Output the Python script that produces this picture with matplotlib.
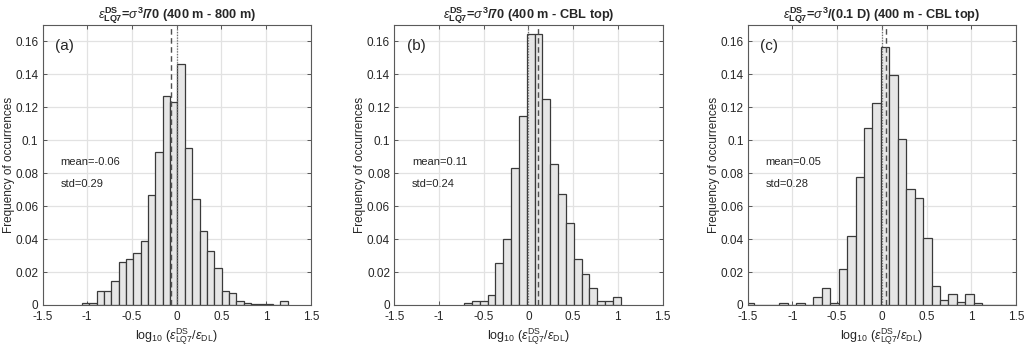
import numpy as np
import matplotlib
matplotlib.use("Agg")
import matplotlib.pyplot as plt
from matplotlib.ticker import FuncFormatter

plt.rcParams['font.family'] = ['Liberation Sans', 'DejaVu Sans']
plt.rcParams['mathtext.fontset'] = 'custom'
plt.rcParams['mathtext.rm'] = 'Liberation Sans'
plt.rcParams['mathtext.it'] = 'Liberation Sans:italic'
plt.rcParams['mathtext.bf'] = 'Liberation Sans:bold'
plt.rcParams['axes.unicode_minus'] = False

# ---------------- data ----------------
panel_labels = ['(a)', '(b)', '(c)']
titles = [
    r'$\epsilon^{\mathbf{DS}}_{\mathbf{LQ7}}$=$\sigma^{\mathbf{3}}$/70 (400 m - 800 m)',
    r'$\epsilon^{\mathbf{DS}}_{\mathbf{LQ7}}$=$\sigma^{\mathbf{3}}$/70 (400 m - CBL top)',
    r'$\epsilon^{\mathbf{DS}}_{\mathbf{LQ7}}$=$\sigma^{\mathbf{3}}$/(0.1 D) (400 m - CBL top)',
]
means = [-0.06, 0.11, 0.05]
stds = [0.29, 0.24, 0.28]

# panel (a) histogram
a_first_edge = -1.06
a_bin_width = 0.0822
a_freq = [0.0015, 0.0015, 0.0085, 0.0085, 0.0148, 0.0263, 0.0280, 0.0314,
          0.0389, 0.0667, 0.0926, 0.1270, 0.1235, 0.1462, 0.0956, 0.0645,
          0.0450, 0.0330, 0.0224, 0.0082, 0.0071, 0.0024, 0.0014, 0.0008,
          0.0008, 0.0005, 0.0, 0.0025]

# panel (b) histogram
b_first_edge = -0.72
b_bin_width = 0.0877
b_freq = [0.0014, 0.0024, 0.0024, 0.0060, 0.0255, 0.0400, 0.0830, 0.1145,
          0.1645, 0.1645, 0.1250, 0.0855, 0.0676, 0.0500, 0.0282, 0.0190,
          0.0105, 0.0024, 0.0024, 0.0049]

# panel (c) histogram
c_first_edge = -1.523
c_bin_width = 0.0945
c_freq = [0.0015, 0.0, 0.0, 0.0, 0.0015, 0.0, 0.0015, 0.0,
          0.0050, 0.0105, 0.0015, 0.0220, 0.0420, 0.0775, 0.1077, 0.1229,
          0.1564, 0.1395, 0.1010, 0.0707, 0.0652, 0.0405, 0.0115, 0.0032,
          0.0065, 0.0016, 0.0065, 0.0014, 0.0, 0.0, 0.0, 0.0]

hists = [(a_first_edge, a_bin_width, a_freq),
         (b_first_edge, b_bin_width, b_freq),
         (c_first_edge, c_bin_width, c_freq)]

xticks = [-1.5, -1, -0.5, 0, 0.5, 1, 1.5]
yticks = [0, 0.02, 0.04, 0.06, 0.08, 0.1, 0.12, 0.14, 0.16]

# ---------------- figure ----------------
fig = plt.figure(figsize=(10.32, 3.5), dpi=100)
lefts = [0.0412, 0.3820, 0.7245]
TXT = '#262626'

fmt = FuncFormatter(lambda v, p: ('%g' % round(v, 4)))

for i in range(3):
    ax = fig.add_axes([lefts[i], 0.1286, 0.2600, 0.8])
    start, width, freq = hists[i]
    freq = np.asarray(freq)
    lefts_bins = start + width * np.arange(len(freq))
    ax.bar(lefts_bins, freq, width=width, align='edge', color='#e6e6e6',
           edgecolor='#3a3a3a', linewidth=0.9, zorder=2)
    ax.axvline(0, color='#707070', linestyle=(0, (1, 1.2)), linewidth=0.9, zorder=3)
    ax.axvline(means[i], color='#505050', linestyle=(0, (4, 2.5)), linewidth=1.0, zorder=3)

    ax.set_xlim(-1.5, 1.5)
    ax.set_ylim(0, 0.17)
    ax.set_xticks(xticks)
    ax.set_yticks(yticks)
    ax.xaxis.set_major_formatter(fmt)
    ax.yaxis.set_major_formatter(fmt)
    ax.grid(True, color='#e2e2e2', linewidth=0.9, zorder=0)
    ax.set_axisbelow(True)
    ax.tick_params(direction='in', length=3, width=0.6, colors='#404040',
                   labelcolor=TXT, labelsize=8.5, top=True, right=True)
    ax.tick_params(axis='x', pad=4.5)
    ax.tick_params(axis='y', pad=3)
    for s in ax.spines.values():
        s.set_color('#5a5a5a')
        s.set_linewidth(0.8)

    ax.set_title(titles[i], fontsize=9.2, fontweight='bold', color=TXT, pad=5)
    ax.set_ylabel('Frequency of occurrences', fontsize=8.5, color=TXT, labelpad=0.5)
    ax.set_xlabel(r'log$_{10}$ ($\epsilon^{\mathrm{DS}}_{\mathrm{LQ7}}$/$\epsilon_{\mathrm{DL}}$)',
                  fontsize=9, color=TXT, labelpad=2)

    ax.text(-1.36, 0.1575, panel_labels[i], fontsize=11, color=TXT, va='center', ha='left')
    ax.text(-1.30, 0.087, 'mean=%.2f' % means[i], fontsize=8, color=TXT, va='center', ha='left')
    ax.text(-1.30, 0.0735, 'std=%.2f' % stds[i], fontsize=8, color=TXT, va='center', ha='left')

fig.savefig('out.png', dpi=100)
